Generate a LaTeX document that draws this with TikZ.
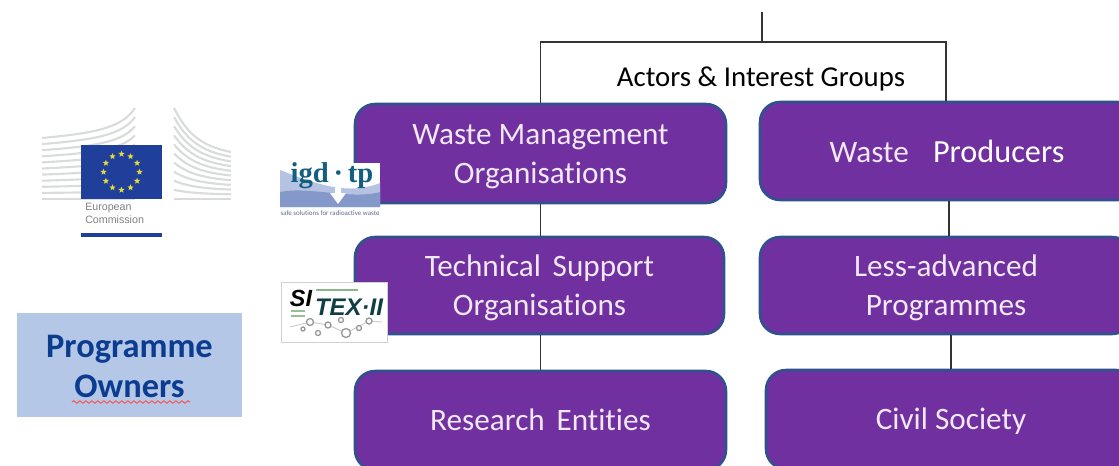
\documentclass[tikz,border=0pt]{standalone}
\usepackage{fontspec}
\setmainfont{Carlito}[RawFeature={-liga}]
\newfontfamily\logosans{Liberation Sans}
\newfontfamily\logoserif{Liberation Serif}
\usetikzlibrary{decorations.pathmorphing,shapes.geometric,calc}
\definecolor{boxfill}{HTML}{7030A0}
\definecolor{boxline}{HTML}{2F528F}
\definecolor{boxtext}{HTML}{F0E8F4}
\definecolor{ownfill}{HTML}{B4C7E7}
\definecolor{owntext}{HTML}{0B3C8F}
\definecolor{eublue}{HTML}{1F3F9B}
\definecolor{eustar}{HTML}{E4DC3C}
\definecolor{wing}{HTML}{DADCDC}
\definecolor{igdband}{HTML}{B5C2E2}
\definecolor{igdband2}{HTML}{8499CA}
\definecolor{igdtext}{HTML}{145F80}
\definecolor{sitext}{HTML}{0F3F45}
\newcommand\lowered[2][2.2pt]{\raisebox{-#1}[\height][\depth]{\begin{tabular}{@{}c@{}}#2\end{tabular}}}
\tikzset{
  x=0.75pt,y=-0.75pt,
  group/.style={rectangle,rounded corners=15pt,draw=boxline,line width=1.9pt,fill=boxfill,
    text=boxtext,font=\fontsize{23.4}{29}\selectfont,align=center,inner sep=0pt,anchor=center},
  conn/.style={draw=black!80,line width=1.2pt},
  wingline/.style={draw=wing,line width=1.6pt},
}
\begin{document}
\begin{tikzpicture}
\useasboundingbox (0,0) rectangle (1119,465);
\clip (0,0) rectangle (1119,465);
\coordinate (topend) at (762,12);
\coordinate (barjoin) at (762,42);
\coordinate (barright) at (946,42);
\node[group,minimum width=371*0.75pt,minimum height=99*0.75pt] (wmo) at (540.5,153.5) {\lowered{Waste Management\\Organisations}};
\node[group,minimum width=378*0.75pt,minimum height=98*0.75pt] (wp) at (949,151) {\lowered[2.5pt]{Waste\hspace{0.55em} {\color{white}\fontsize{24.2}{29}\selectfont Producers}\hspace*{3pt}}};
\node[group,minimum width=369*0.75pt,minimum height=97*0.75pt] (tso) at (539.5,285.5) {\lowered{Technical\hspace{0.15em} Support\\Organisations}};
\node[group,minimum width=372*0.75pt,minimum height=97*0.75pt] (lap) at (946,285.5) {\lowered{Less-advanced\\Programmes}};
\node[group,minimum width=371*0.75pt,minimum height=99*0.75pt] (re) at (540.5,420.5) {\lowered[2pt]{Research\hspace{0.15em} Entities}};
\node[group,minimum width=370*0.75pt,minimum height=99*0.75pt] (cs) at (951,419.5) {\lowered[2pt]{Civil Society}};
\draw[conn] (topend) -- (barjoin);
\draw[conn] (wmo.north) -- (wmo.north |- barjoin) -- (barright) -- (barright |- wp.north);
\draw[conn] (wmo.south) -- (wmo.south |- tso.north);
\draw[conn] (wp.south) -- (wp.south |- lap.north);
\draw[conn] (wmo.south |- tso.south) -- (wmo.south |- re.north);
\draw[conn] (cs.north) -- (cs.north |- lap.south);
\node[font=\fontsize{21.6}{26}\selectfont,text=black] (title) at (761,77) {\lowered[2pt]{Actors \& Interest Groups}};
% Programme Owners
\node[rectangle,fill=ownfill,minimum width=225*0.75pt,minimum height=104*0.75pt,inner sep=0pt,
  text=owntext,font=\bfseries\fontsize{25.8}{30}\selectfont,align=center] (owners) at (129.5,365) {\lowered[3.6pt]{Programme\\Owners}};
\draw[red!70,line width=0.7pt,decorate,decoration={snake,amplitude=0.9pt,segment length=4.5pt}] (72,402) -- (190,402);
% European Commission logo: building wings
\foreach \i in {0,...,10}{
  \pgfmathsetmacro{\t}{\i/10}
  \draw[wingline] (42,{138+\t*61}) .. controls (95,{133+\t*66}) and (122,{128+\t*71}) .. (135,{108+\t*91});
  \draw[wingline] (174,{108+\t*91}) .. controls (186,{132+\t*67}) and (200,{146+\t*53}) .. (231,{152+\t*47});
}
\node[rectangle,fill=eublue,minimum width=81*0.75pt,minimum height=54*0.75pt,inner sep=0pt] (flag) at (121.5,172) {};
\foreach \a in {0,30,...,330}{
  \node[star,star points=5,star point ratio=2.4,fill=eustar,inner sep=0pt,minimum size=5pt] at ($(flag.center)+(\a:18*0.75pt)$) {};
}
\node[font=\logosans\fontsize{8}{9.8}\selectfont,text=black!50,align=left,inner sep=0pt,anchor=north west] (euname) at (85,203) {European\\Commission};
\fill[eublue] (81,233) rectangle (162,237);
% igd-tp logo
\fill[white] (280,163) rectangle (380,207);
\fill[igdband] (280,170) .. controls (320,186) and (350,195) .. (380,183) -- (380,207) -- (280,207) -- cycle;
\fill[igdband2] (280,192) .. controls (310,186) and (350,200) .. (380,192) -- (380,207) -- (280,207) -- cycle;
\fill[white] (335,183) -- (341,183) -- (341,193) -- (346,193) -- (338,204) -- (330,193) -- (335,193) -- cycle;
\node[font=\logoserif\bfseries\fontsize{21.5}{22}\selectfont,text=igdtext,inner sep=0pt] (igd) at (332,176) {igd\,·\,tp};
\node[font=\fontsize{5.2}{6}\selectfont,text=igdband2!70!black,inner sep=0pt] (igdsub) at (330,213) {safe solutions for radioactive waste};
% SITEX logo
\draw[fill=white,draw=black!18,line width=0.5pt] (281,282) rectangle (387,342);
\draw[green!35!black!45,line width=1.4pt] (316,290) -- (358,290);
\draw[green!35!black!40,line width=1pt] (291,311) -- (305,311) (291,316) -- (305,316);
\node[font=\logosans\bfseries\itshape\fontsize{17.5}{18}\selectfont,text=black,inner sep=0pt] (si) at (301,298) {SI};
\node[font=\logosans\bfseries\itshape\fontsize{18}{19}\selectfont,text=sitext,inner sep=0pt] (tex) at (349,307) {TEX·II};
\draw[black!20,line width=0.7pt] (290,327) -- (310,322) -- (328,325) -- (346,333) -- (369,321) -- (382,322);
\foreach \cx/\cy/\r in {310/322/3.5,328/325/3,341/320/2.5,346/333/4.5,359/328/2.5,369/321/3,318/333/2.5,303/329/2}{
  \draw[black!40,line width=1pt,fill=white] (\cx,\cy) circle (\r);
}
\end{tikzpicture}
\end{document}
